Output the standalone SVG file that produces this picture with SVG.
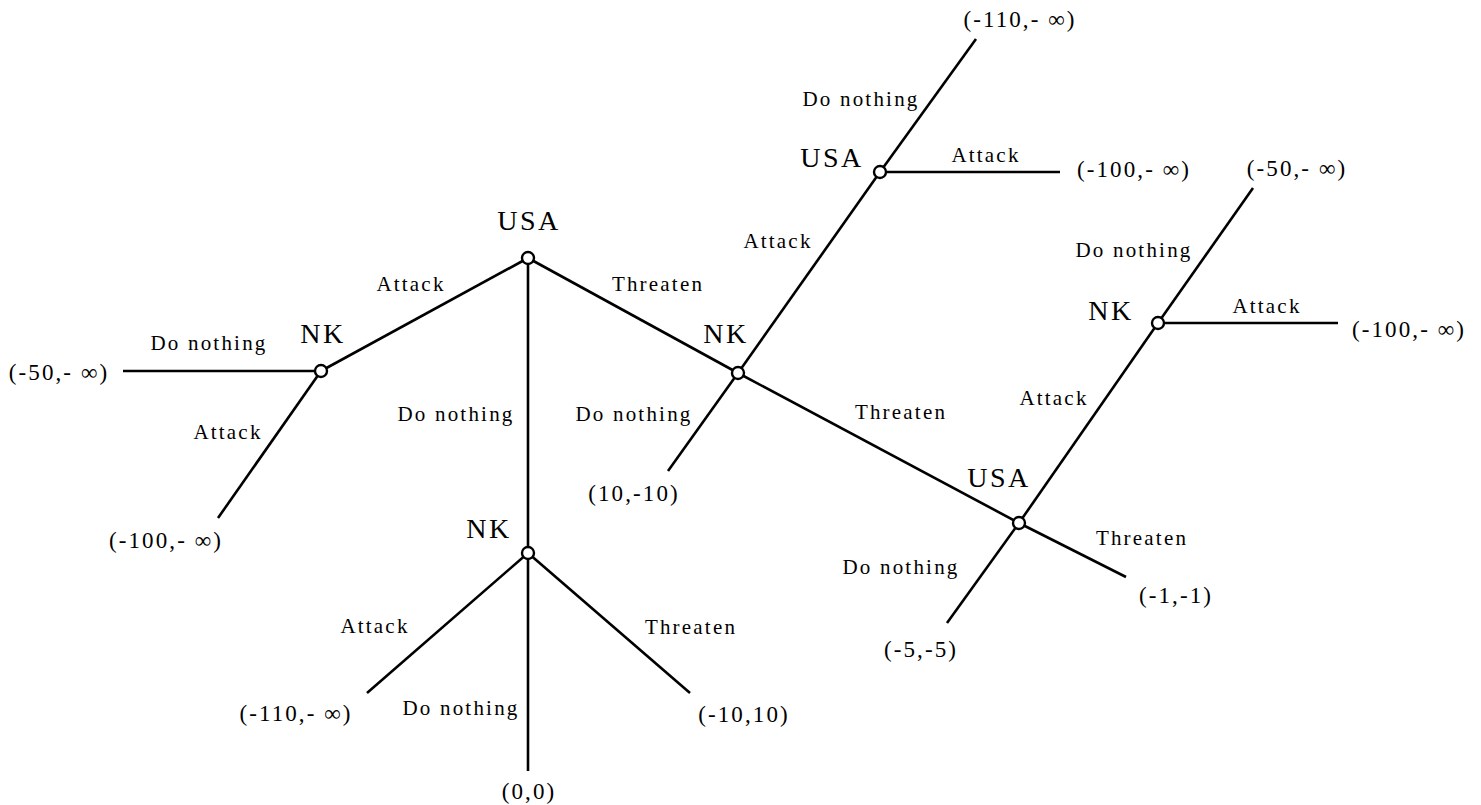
<svg xmlns="http://www.w3.org/2000/svg" width="1481" height="805" viewBox="0 0 1481 805">
<style>
.e{stroke:#000;stroke-width:2.6;fill:none;stroke-linecap:butt}
.n{fill:#fff;stroke:#000;stroke-width:2.4}
.p{font-family:"Liberation Serif","DejaVu Serif",serif;font-size:28px;text-anchor:middle;fill:#000;letter-spacing:2.5px}
.a{font-family:"Liberation Serif","DejaVu Serif",serif;font-size:21px;text-anchor:middle;fill:#000;letter-spacing:2.2px}
.l{font-family:"Liberation Serif","DejaVu Serif",serif;font-size:23px;text-anchor:middle;fill:#000;letter-spacing:2.1px}
</style>
<rect width="1481" height="805" fill="#fff"/>
<g id="connectors">
<line class="e" x1="528" y1="258" x2="321" y2="371"/>
<line class="e" x1="321" y1="371" x2="123" y2="371"/>
<line class="e" x1="321" y1="371" x2="218" y2="518"/>
<line class="e" x1="528" y1="258" x2="528" y2="553"/>
<line class="e" x1="528" y1="553" x2="367" y2="693"/>
<line class="e" x1="528" y1="553" x2="528" y2="771"/>
<line class="e" x1="528" y1="553" x2="690" y2="693"/>
<line class="e" x1="528" y1="258" x2="738" y2="373"/>
<line class="e" x1="738" y1="373" x2="668" y2="471"/>
<line class="e" x1="738" y1="373" x2="880" y2="172"/>
<line class="e" x1="880" y1="172" x2="976" y2="39"/>
<line class="e" x1="880" y1="172" x2="1060" y2="172"/>
<line class="e" x1="738" y1="373" x2="1019" y2="523"/>
<line class="e" x1="1019" y1="523" x2="947" y2="623"/>
<line class="e" x1="1019" y1="523" x2="1126" y2="577"/>
<line class="e" x1="1019" y1="523" x2="1158" y2="323"/>
<line class="e" x1="1158" y1="323" x2="1253" y2="188"/>
<line class="e" x1="1158" y1="323" x2="1338" y2="323"/>
</g>
<g id="edge-labels">
<text class="a" x="411" y="291">Attack</text>
<text class="a" x="209" y="350">Do nothing</text>
<text class="a" x="228" y="439">Attack</text>
<text class="a" x="456" y="421">Do nothing</text>
<text class="a" x="375" y="633">Attack</text>
<text class="a" x="461" y="715">Do nothing</text>
<text class="a" x="691" y="634">Threaten</text>
<text class="a" x="658" y="291">Threaten</text>
<text class="a" x="634" y="421">Do nothing</text>
<text class="a" x="778" y="248">Attack</text>
<text class="a" x="861" y="106">Do nothing</text>
<text class="a" x="986" y="162">Attack</text>
<text class="a" x="901" y="419">Threaten</text>
<text class="a" x="901" y="574">Do nothing</text>
<text class="a" x="1142" y="545">Threaten</text>
<text class="a" x="1054" y="405">Attack</text>
<text class="a" x="1134" y="257">Do nothing</text>
<text class="a" x="1267" y="313">Attack</text>
</g>
<g id="node-root"><circle class="n" cx="528" cy="258" r="6"/><text class="p" x="529" y="230">USA</text></g>
<g id="node-nk-left"><circle class="n" cx="321" cy="371" r="6"/><text class="p" x="323" y="343">NK</text></g>
<g id="node-nk-bottom"><circle class="n" cx="528" cy="553" r="6"/><text class="p" x="489" y="538">NK</text></g>
<g id="node-nk-mid"><circle class="n" cx="738" cy="373" r="6"/><text class="p" x="726" y="343">NK</text></g>
<g id="node-usa-top"><circle class="n" cx="880" cy="172" r="6"/><text class="p" x="832" y="167">USA</text></g>
<g id="node-usa-right"><circle class="n" cx="1019" cy="523" r="6"/><text class="p" x="999" y="487">USA</text></g>
<g id="node-nk-right"><circle class="n" cx="1158" cy="323" r="6"/><text class="p" x="1111" y="320">NK</text></g>
<g id="leaves">
<text class="l" x="59" y="380">(-50,- ∞)</text>
<text class="l" x="166" y="548">(-100,- ∞)</text>
<text class="l" x="296" y="721">(-110,- ∞)</text>
<text class="l" x="529" y="799">(0,0)</text>
<text class="l" x="744" y="722">(-10,10)</text>
<text class="l" x="634" y="501">(10,-10)</text>
<text class="l" x="1020" y="27">(-110,- ∞)</text>
<text class="l" x="1134" y="177">(-100,- ∞)</text>
<text class="l" x="921" y="657">(-5,-5)</text>
<text class="l" x="1176" y="603">(-1,-1)</text>
<text class="l" x="1297" y="176">(-50,- ∞)</text>
<text class="l" x="1409" y="337">(-100,- ∞)</text>
</g>
</svg>
